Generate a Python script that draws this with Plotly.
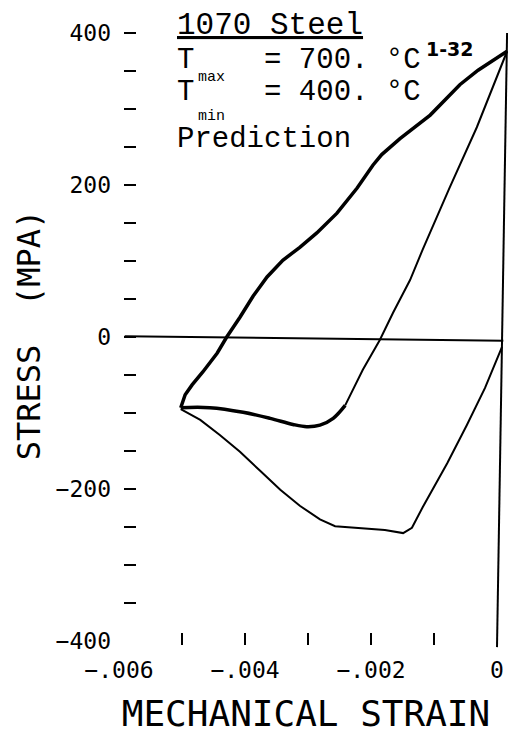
import plotly.graph_objects as go

# ---------------- data ----------------
# thick upper branch (compression-to-tension loading)
upper_strain = [-0.00502, -0.00495, -0.00484, -0.00467, -0.00444, -0.00429, -0.00408,
                -0.00387, -0.00365, -0.00340, -0.00313, -0.00286, -0.00254, -0.00222,
                -0.00197, -0.00183, -0.00154, -0.00106, -0.00059, -0.00030, 0.00016]
upper_stress = [-93, -76, -63, -46, -21, 0, 26, 54, 79, 101, 118, 137, 163, 196,
                226, 240, 261, 292, 332, 351, 376]

# thick bottom branch
bottom_strain = [-0.00502, -0.00456, -0.00403, -0.00360, -0.00324, -0.00302, -0.00281,
                 -0.00260, -0.00241]
bottom_stress = [-93, -93, -99, -107, -115, -118, -116, -107, -90]

# thin rising branch back to the peak
rise_strain = [-0.00241, -0.00213, -0.00186, -0.00165, -0.00138, -0.00118, -0.00075,
               -0.00032, 0.00016]
rise_stress = [-90, -43, -4, 32, 75, 115, 197, 276, 376]

# thin lower (first) curve
lower_strain = [-0.00502, -0.00471, -0.00440, -0.00408, -0.00376, -0.00344, -0.00313,
                -0.00281, -0.00257, -0.00218, -0.00178, -0.00149, -0.00135, -0.00118,
                -0.00079, -0.00048, -0.00019, 0.00008]
lower_stress = [-95, -109, -129, -151, -176, -201, -222, -240, -249, -251, -254, -258,
                -251, -224, -166, -116, -67, -13]

# zero-stress reference line and zero-strain line
zero_strain = [-0.00591, 0.00010]
zero_stress = [1, -5]
vert_strain = [0.00016, 0.0]
vert_stress = [400, -408]

# ticks
x_label_vals = [-0.006, -0.004, -0.002, 0.0]
x_label_text = ["\u2212.006", "\u2212.004", "\u2212.002", "0"]
x_mark_vals = [-0.005, -0.004, -0.003, -0.002, -0.001]
y_label_vals = [-400, -200, 0, 200, 400]
y_label_text = ["\u2212400", "\u2212200", "0", "200", "400"]
y_mark_vals = [-350, -300, -250, -200, -150, -100, -50, 0, 50, 100, 150, 200, 250,
               300, 350, 400]

# ---------------- layout geometry ----------------
W, H = 517, 742
L, R, T, B = 104, 9, 20, 92
PW, PH = W - L - R, H - T - B
XR = [-0.006238, 0.0001746]
YR = [-411.8, 417.1]


def paper(px, py):
    return (px - L) / PW, (H - B - py) / PH


fig = go.Figure()

thick, thin = 3.5, 2
fig.add_trace(go.Scatter(x=upper_strain, y=upper_stress, mode="lines",
                         line=dict(color="black", width=thick), hoverinfo="skip"))
fig.add_trace(go.Scatter(x=bottom_strain, y=bottom_stress, mode="lines",
                         line=dict(color="black", width=thick, shape="spline"),
                         hoverinfo="skip"))
fig.add_trace(go.Scatter(x=rise_strain, y=rise_stress, mode="lines",
                         line=dict(color="black", width=thin), hoverinfo="skip"))
fig.add_trace(go.Scatter(x=lower_strain, y=lower_stress, mode="lines",
                         line=dict(color="black", width=thin), hoverinfo="skip"))
fig.add_trace(go.Scatter(x=vert_strain, y=vert_stress, mode="lines",
                         line=dict(color="black", width=2), hoverinfo="skip"))
# zero line drawn on the overlaying axes (same ranges) so they get rendered
fig.add_trace(go.Scatter(x=zero_strain, y=zero_stress, mode="lines", xaxis="x2",
                         yaxis="y2", line=dict(color="black", width=2),
                         hoverinfo="skip"))

tick_font = dict(family="DejaVu Sans Mono", size=23, color="black")

fig.update_layout(
    width=W, height=H,
    margin=dict(l=L, r=R, t=T, b=B, pad=0),
    paper_bgcolor="white", plot_bgcolor="white",
    showlegend=False,
    xaxis=dict(range=XR, domain=[0, 1], anchor="y", showgrid=False, zeroline=False,
               showline=False, ticks="", tickmode="array", tickvals=x_label_vals,
               ticktext=x_label_text, tickfont=tick_font, ticklabelstandoff=4,
               title=dict(text="MECHANICAL STRAIN",
                          font=dict(family="DejaVu Sans Mono", size=36, color="black"),
                          standoff=18)),
    xaxis2=dict(range=XR, overlaying="x", anchor="free", position=paper(0, 645)[1],
                showgrid=False, zeroline=False, showline=False, ticks="inside",
                ticklen=12, tickwidth=2, tickcolor="black", tickmode="array",
                tickvals=x_mark_vals, showticklabels=False),
    yaxis=dict(range=YR, domain=[0, 1], anchor="free", position=paper(119, 0)[0],
               side="left", showgrid=False, zeroline=False, showline=False, ticks="",
               tickmode="array", tickvals=y_label_vals, ticktext=y_label_text,
               tickfont=tick_font, ticklabelstandoff=8,
               title=dict(text="STRESS  (MPA)",
                          font=dict(family="DejaVu Sans Mono", size=32, color="black"),
                          standoff=4)),
    yaxis2=dict(range=YR, overlaying="y", anchor="free", position=paper(123, 0)[0],
                side="left", showgrid=False, zeroline=False, showline=False,
                ticks="inside", ticklen=12, tickwidth=2, tickcolor="black",
                tickmode="array", tickvals=y_mark_vals, showticklabels=False),
)

MONO = "Liberation Mono"


def add_text(text, left, baseline, size, family=MONO, descent=0.300, **font_extra):
    x, y = paper(left - 1, baseline + 1 + descent * size)
    fig.add_annotation(text=text, x=x, y=y, xref="paper", yref="paper",
                       xanchor="left", yanchor="bottom", showarrow=False,
                       borderpad=0,
                       font=dict(family=family, size=size, color="black", **font_extra))


add_text("1070 Steel", 177, 34, 31, lineposition="under")
add_text("T    = 700. \u00b0C", 177, 68, 29)
add_text("1-32", 426, 56, 19, family="DejaVu Sans", descent=0.236, weight="bold")
add_text("max", 198, 82, 15)
add_text("T    = 400. \u00b0C", 177, 100, 29)
add_text("min", 198, 121, 15)
add_text("Prediction", 177, 147, 29)

fig.write_html("out.html")
